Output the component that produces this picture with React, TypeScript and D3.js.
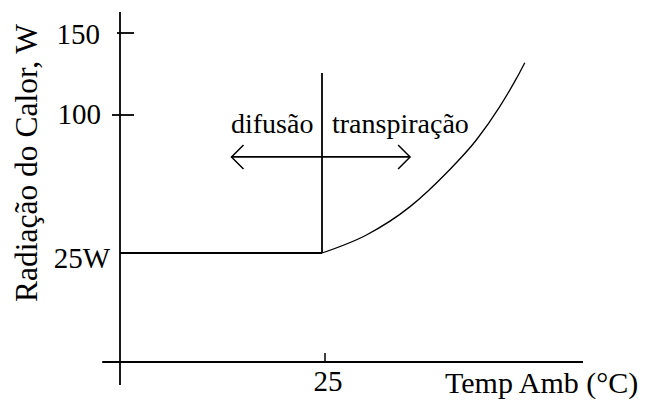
import React from "react";
import * as d3 from "d3";

const W = 647;
const H = 403;

// Axis tick values / labels
const yTickValues = [150, 100, 25];
const yTickLabels = ["150", "100", "25W"];
const xTickValues = [25];
const xTickLabels = ["25"];

// Curve: heat radiation above the 25 °C threshold (transpiration)
const curveTemp = [25, 30.5, 35.9, 40.4, 44.1, 47.0, 49.1, 50.1];
const curveWatt = [25, 34.8, 50.2, 68.5, 86.4, 105.1, 122.6, 131.9];

// Flat segment (diffusion)
const flatTemp = [0, 25];
const flatWatt = [25, 25];

const threshold = 25;
const dividerTop = 125.6;
const arrowLevel = 77.2;
const arrowFrom = 13.8;
const arrowTo = 35.9;

const yAxisLabel = "Radia\u00e7\u00e3o do Calor, W";
const xAxisLabel = "Temp Amb (\u00b0C)";
const leftLabel = "difus\u00e3o";
const rightLabel = "transpira\u00e7\u00e3o";

const FONT = "'Liberation Serif', 'Times New Roman', serif";

export default function App() {
  const x = d3.scaleLinear().domain([0, 25]).range([120, 322]);
  const y = d3
    .scaleLinear()
    .domain([0, 25, 100, 150])
    .range([362, 253, 115, 33]);

  const x0 = x(0);
  const yBase = 362;

  const curvePts: [number, number][] = curveTemp.map((t, i) => [t, curveWatt[i]]);
  const flatPts: [number, number][] = flatTemp.map((t, i) => [t, flatWatt[i]]);

  const lineGen = d3
    .line<[number, number]>()
    .x((d) => x(d[0]))
    .y((d) => y(d[1]))
    .curve(d3.curveMonotoneX);
  const straight = d3
    .line<[number, number]>()
    .x((d) => x(d[0]))
    .y((d) => y(d[1]));

  const ay = y(arrowLevel);
  const axL = x(arrowFrom);
  const axR = x(arrowTo);
  const head = 12;

  const tickRight: Record<number, number> = { 150: 100, 100: 101, 25: 110 };
  const tickBase: Record<number, number> = { 150: 44, 100: 124, 25: 268 };

  return (
    <svg
      width={W}
      height={H}
      style={{ position: "absolute", left: 0, top: 0, background: "#fff" }}
    >
      <rect x={0} y={0} width={W} height={H} fill="#fff" />
      {/* Y axis */}
      <line x1={x0} x2={x0} y1={12} y2={385} stroke="#000" strokeWidth={1.8} />
      {/* X axis */}
      <line x1={x(-2.2)} x2={x(57.3)} y1={yBase} y2={yBase} stroke="#000" strokeWidth={1.8} />

      {/* Y ticks */}
      {yTickValues.map((v, i) => (
        <g key={"yt" + i}>
          {v !== 25 && (
            <line
              x1={v === 100 ? x0 - 8 : x0 - 3}
              x2={x0 + 14}
              y1={y(v)}
              y2={y(v)}
              stroke="#000"
              strokeWidth={1.8}
            />
          )}
          <text
            x={tickRight[v]}
            y={tickBase[v]}
            textAnchor="end"
            style={{ fontFamily: FONT, fontSize: 29 }}
            fill="#000"
          >
            {yTickLabels[i]}
          </text>
        </g>
      ))}

      {/* X ticks */}
      {xTickValues.map((v, i) => (
        <g key={"xt" + i}>
          <line x1={x(v) + 3} x2={x(v) + 3} y1={yBase - 9} y2={yBase} stroke="#000" strokeWidth={1.5} />
          <text x={x(v) + 6} y={391} textAnchor="middle" style={{ fontFamily: FONT, fontSize: 29 }} fill="#000">
            {xTickLabels[i]}
          </text>
        </g>
      ))}

      {/* Flat line */}
      <path d={straight(flatPts) || ""} fill="none" stroke="#000" strokeWidth={1.8} />
      {/* Curve */}
      <path d={lineGen(curvePts) || ""} fill="none" stroke="#000" strokeWidth={1.3} />

      {/* Divider at threshold */}
      <line
        x1={x(threshold)}
        x2={x(threshold)}
        y1={y(dividerTop)}
        y2={y(25)}
        stroke="#000"
        strokeWidth={1.8}
      />

      {/* Double arrow */}
      <line x1={axL} x2={axR} y1={ay} y2={ay} stroke="#000" strokeWidth={1.8} />
      <polyline
        points={`${axL + head},${ay - head} ${axL},${ay} ${axL + head},${ay + head}`}
        fill="none"
        stroke="#000"
        strokeWidth={1.5}
      />
      <polyline
        points={`${axR - head},${ay - head} ${axR},${ay} ${axR - head},${ay + head}`}
        fill="none"
        stroke="#000"
        strokeWidth={1.5}
      />

      {/* Region labels */}
      <text x={231} y={133} style={{ fontFamily: FONT, fontSize: 28 }} fill="#000">
        {leftLabel}
      </text>
      <text x={332} y={133} style={{ fontFamily: FONT, fontSize: 28 }} fill="#000">
        {rightLabel}
      </text>

      {/* Axis titles */}
      <text x={445} y={393} style={{ fontFamily: FONT, fontSize: 30 }} fill="#000">
        {xAxisLabel}
      </text>
      <text
        transform={`translate(37, 302) rotate(-90)`}
        style={{ fontFamily: FONT, fontSize: 31.5 }}
        fill="#000"
      >
        {yAxisLabel}
      </text>
    </svg>
  );
}
